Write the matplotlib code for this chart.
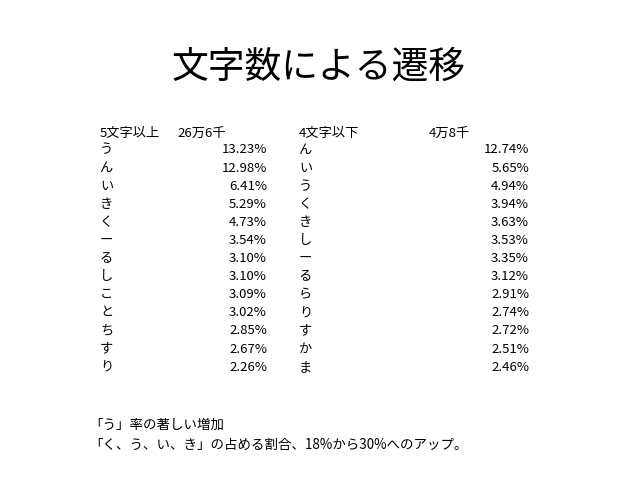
import matplotlib
matplotlib.use("Agg")
import matplotlib.pyplot as plt

plt.rcParams['font.family'] = ['Noto Sans CJK JP', 'DejaVu Sans']

title = "文字数による遷移"

left_head = "5文字以上"
left_total = "26万6千"
left_chars = ["う", "ん", "い", "き", "く", "ー", "る", "し", "こ", "と", "ち", "す", "り"]
left_vals = [13.23, 12.98, 6.41, 5.29, 4.73, 3.54, 3.10, 3.10, 3.09, 3.02, 2.85, 2.67, 2.26]

right_head = "4文字以下"
right_total = "4万8千"
right_chars = ["ん", "い", "う", "く", "き", "し", "ー", "る", "ら", "り", "す", "か", "ま"]
right_vals = [12.74, 5.65, 4.94, 3.94, 3.63, 3.53, 3.35, 3.12, 2.91, 2.74, 2.72, 2.51, 2.46]

notes = ["「う」率の著しい増加",
         "「く、う、い、き」の占める割合、18%から30%へのアップ。"]

W, H = 638, 479
fig = plt.figure(figsize=(W / 100, H / 100), dpi=100)
fig.patch.set_facecolor("white")


def px(x, y):
    return x / W, 1 - y / H


fig.text(*px(319, 67), title, ha="center", va="center", fontsize=26.5)

fs = 9.5
# header rows
fig.text(*px(100, 133), left_head, ha="left", va="center", fontsize=fs)
fig.text(*px(177, 133), left_total, ha="left", va="center", fontsize=fs)
fig.text(*px(299, 133), right_head, ha="left", va="center", fontsize=fs)
fig.text(*px(429, 133), right_total, ha="left", va="center", fontsize=fs)

y0, dy = 150, 18.1
for i, (c, v) in enumerate(zip(left_chars, left_vals)):
    y = y0 + i * dy
    fig.text(*px(100, y), c, ha="left", va="center", fontsize=fs)
    fig.text(*px(267, y), f"{v:.2f}%", ha="right", va="center", fontsize=fs)

for i, (c, v) in enumerate(zip(right_chars, right_vals)):
    y = y0 + i * dy
    fig.text(*px(299, y), c, ha="left", va="center", fontsize=fs)
    fig.text(*px(529, y), f"{v:.2f}%", ha="right", va="center", fontsize=fs)

for i, n in enumerate(notes):
    fig.text(*px(89, 425 + i * 20), n, ha="left", va="center", fontsize=9.7)

fig.savefig("out.png", dpi=100)
